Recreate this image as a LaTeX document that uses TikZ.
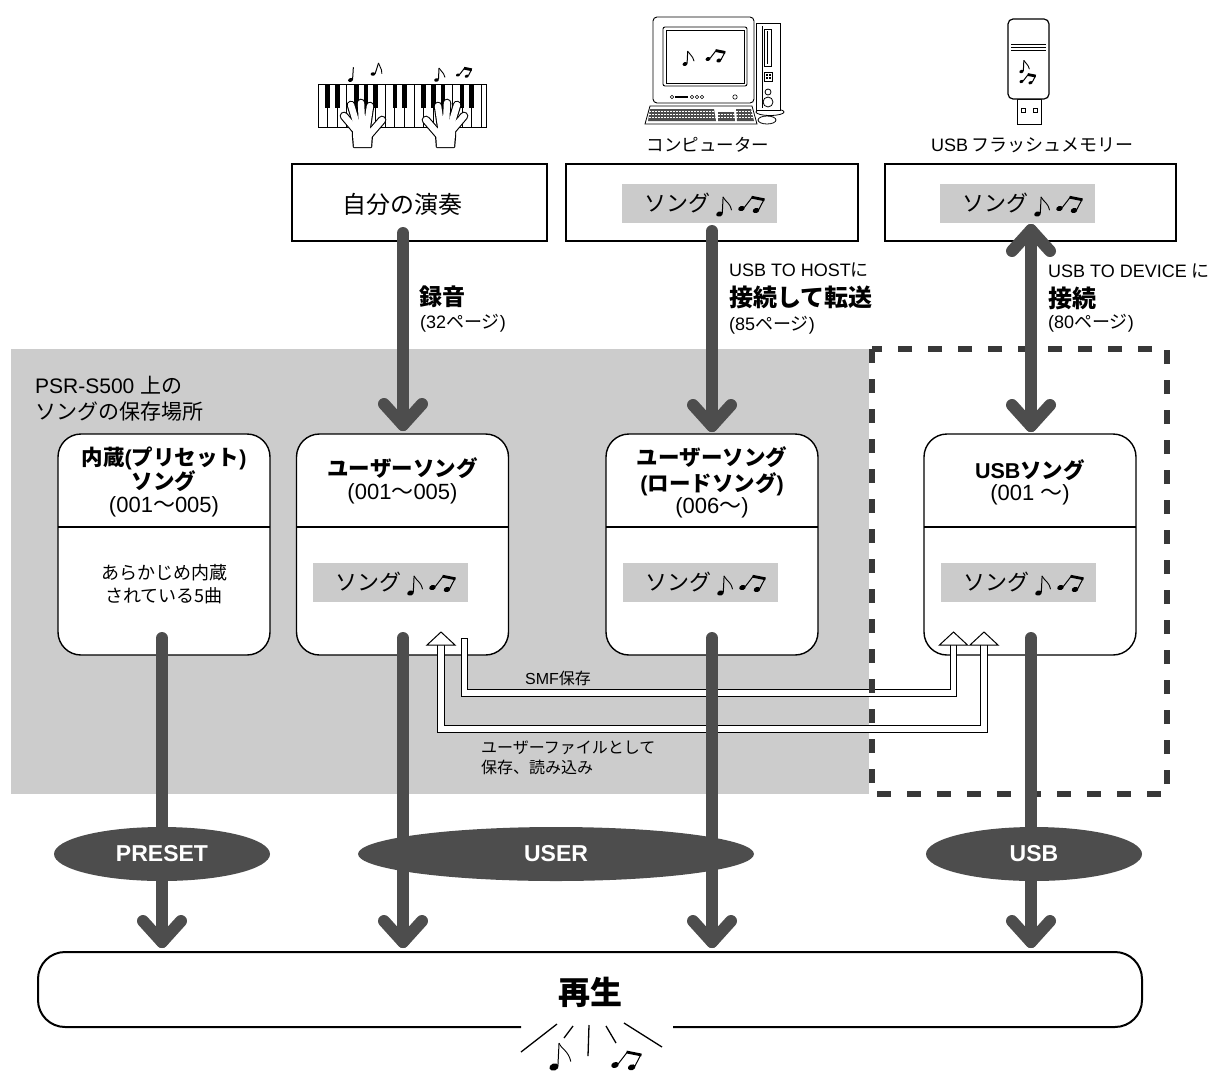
\documentclass[tikz,border=0pt]{standalone}
\usepackage{fontspec}
\usetikzlibrary{shapes.geometric}
\setmainfont{Liberation Sans}
\newfontfamily\jpf{Noto Sans CJK JP}
\newcommand\jp[1]{{\jpf #1}}
\newcommand\fs[1]{\fontsize{#1pt}{#1pt}\selectfont}
\definecolor{fatgray}{HTML}{4D4D4D}
\definecolor{zonegray}{HTML}{CCCCCC}
\definecolor{labelgray}{HTML}{CBCBCB}
\definecolor{dashgray}{HTML}{383838}

\tikzset{
  % music symbols
  eighth/.pic={
    \fill[rotate around={20:(0,0)}] (0,0) ellipse (3.4 and 2.5);
    \draw[line width=1pt] (2.8,-1) -- (3.6,-17);
    \draw[line width=0.9pt, line cap=round] (3.6,-17) .. controls (6,-12) and (10,-12) .. (12,-4);
  },
  quarter/.pic={
    \fill[rotate around={20:(0,0)}] (0,0) ellipse (3.4 and 2.5);
    \draw[line width=1pt] (2.8,-1) -- (3.8,-17);
  },
  beamed/.pic={
    \fill[rotate around={20:(0,0)}] (0,0) ellipse (3.4 and 2.5);
    \fill[rotate around={20:(14.5,2)}] (14.5,2) ellipse (3.4 and 2.5);
    \draw[line width=1pt] (2.8,-1) -- (10.5,-11);
    \draw[line width=1pt] (17.3,1) -- (22.5,-9);
    \draw[line width=2.8pt] (10,-11.3) -- (23,-8.7);
  },
  % grey "song" tag with notes
  songlabel/.pic={
    \node[fill=labelgray, minimum width=155pt, minimum height=39pt, inner sep=0pt] (-box) at (0,0) {};
    \node[inner sep=0pt, font=\fs{22}] (-text) at (-22.5,0) {\jp{ソング}};
    \pic at (20,10.5) {eighth};
    \pic at (42,5) {beamed};
  },
  % left hand seen from above, wrist at the origin
  hand/.pic={
    \draw[line width=2.4pt, line join=round] (-8,0) -- (-9,-12) -- (-9,-20) -- (6,-25) -- (10,-14) -- (9,0) -- cycle;
    \foreach \ax/\ay/\bx/\by in {-7/-18/-18/-31, -5/-22/-11/-42, 0/-23/-1/-44, 5/-21/8/-41, 7/-12/20/-27}
      \draw[line width=8.6pt, line cap=round] (\ax,\ay) -- (\bx,\by);
    \fill[white] (-8,0) -- (-9,-12) -- (-9,-20) -- (6,-25) -- (10,-14) -- (9,0) -- cycle;
    \foreach \ax/\ay/\bx/\by in {-7/-18/-18/-31, -5/-22/-11/-42, 0/-23/-1/-44, 5/-21/8/-41, 7/-12/20/-27}
      \draw[white, line width=6.4pt, line cap=round] (\ax,\ay) -- (\bx,\by);
  }
}

\begin{document}
\begin{tikzpicture}[x=1pt, y=-1pt,
  fat/.style={line width=12pt, draw=fatgray, line cap=round, line join=round},
  topbox/.style={draw, line width=2.5pt, fill=white, inner sep=0pt, minimum height=77pt},
  card/.style={draw, line width=1.4pt, fill=white, rounded corners=23pt, minimum width=212pt, minimum height=221pt, inner sep=0pt},
  hollow/.style={line width=1pt, double=white, double distance=5.5pt},
  hhead/.style={fill=white, draw, line width=1pt, line join=miter},
  tag/.style={fill=fatgray, ellipse, minimum height=54pt, inner sep=0pt, text=white, font=\fs{23}\bfseries},
  txt/.style={inner sep=0pt}
]
\useasboundingbox (0,0) rectangle (1228,1071);

% storage area on the instrument
\fill[zonegray] (11,349) rectangle (869,794);
\node[txt, anchor=west, font=\fs{21}] (areaA) at (35,385) {PSR-S500 \jp{上の}};
\node[txt, anchor=west, font=\fs{21}] (areaB) at (35,412) {\jp{ソングの保存場所}};

% ---------- keyboard with hands ----------
\draw[line width=0.9pt, fill=white] (318,84) rectangle (486,127);
\foreach \i in {1,...,17}
  \draw[line width=0.7pt] ({318+9.6*\i},84) -- ({318+9.6*\i},127);
\foreach \i in {1,2,4,5,6,8,9,11,12,13,15,16}
  \fill ({318+9.6*\i-2.3},84) rectangle ({318+9.6*\i+2.3},108);
\pic at (362,147) {hand};
\pic[xscale=-1] at (446,147) {hand};
\pic[scale=0.75] at (350.5,80) {quarter};
\pic[scale=0.7, rotate=-15] at (373,74) {eighth};
\pic[scale=0.7] at (436.5,80) {eighth};
\pic[scale=0.6] at (458,75) {beamed};

% ---------- computer ----------
\filldraw[fill=white, line width=0.9pt, rounded corners=4pt] (653,17) rectangle (754,103);
\draw[line width=0.9pt, rounded corners=2pt] (663,27) rectangle (747,86);
\draw[line width=0.6pt] (666,30) rectangle (744,83);
\pic[scale=0.75] at (685,64) {eighth};
\pic[scale=0.75] at (708,59) {beamed};
\draw[line width=0.6pt] (672,97) circle (1.8);
\fill (675,96) rectangle (688,98);
\foreach \cx in {692,697,702} \draw[line width=0.6pt] (\cx,97) circle (1.8);
\draw[line width=0.6pt] (735,97) circle (2.2);
\filldraw[fill=white, line width=0.8pt] (770,112) ellipse (14 and 3.5);
\filldraw[fill=white, line width=0.9pt] (756,23) rectangle (780,110);
\draw[line width=0.6pt] (762,26) -- (762,108);
\draw[line width=0.7pt] (764,29) rectangle (771,66);
\draw[line width=0.5pt] (767.5,31) -- (767.5,64);
\draw[line width=0.6pt] (764,72) rectangle (772,81);
\foreach \px/\py in {765.5/73.5, 768.5/73.5, 765.5/77, 768.5/77} \fill (\px,\py) rectangle ++(2,2);
\draw[line width=0.8pt] (768,92) circle (3);
\draw[line width=0.8pt] (768,102) circle (5);
\filldraw[fill=white, line width=0.8pt] (650,106) -- (752,106) -- (757,124) -- (645,124) -- cycle;
\fill[fatgray] (650,109) -- (714,109) -- (716,121) -- (648,121) -- cycle;
\fill[fatgray] (718,112) -- (734,112) -- (735,121) -- (718,121) -- cycle;
\fill[fatgray] (736,109) -- (751,109) -- (754,121) -- (737,121) -- cycle;
\foreach \ry in {111.5,114.5,117.5}
  \draw[white, line width=0.5pt, dash pattern=on 2pt off 1pt] (649,\ry) -- (754,\ry);
\filldraw[fill=white, line width=0.8pt] (767,120) ellipse (9 and 4);
\node[txt, font=\fs{17.5}] (lblpc) at (708,145) {\jp{コンピューター}};

% ---------- USB flash memory ----------
\filldraw[fill=white, line width=1pt] (1017,99) rectangle (1041,124);
\draw[line width=0.7pt] (1021,108) rectangle (1025,112);
\draw[line width=0.7pt] (1033,108) rectangle (1037,112);
\filldraw[fill=white, line width=1.2pt, rounded corners=5pt] (1008,19) rectangle (1049,99);
\foreach \sy in {44,47,50} \draw[line width=0.8pt] (1011,\sy) -- (1046,\sy);
\pic[scale=0.65] at (1021.5,71.5) {eighth};
\pic[scale=0.62] at (1021.5,81.5) {beamed};
\node[txt, font=\fs{18}] (lblusb) at (1032,145) {USB\,\jp{フラッシュメモリー}};

% ---------- sources ----------
\node[topbox, minimum width=255pt] (perf) at (419.5,202.5) {};
\node[txt, font=\fs{24}] (perftext) at (402,204) {\jp{自分の演奏}};
\node[topbox, minimum width=292pt] (pcbox) at (712,202.5) {};
\pic (pcsong) at (699.5,203.5) {songlabel};
\node[topbox, minimum width=291pt] (usbbox) at (1030.5,202.5) {};
\pic (ussong) at (1017.5,203.5) {songlabel};

% ---------- song memories ----------
\node[card] (preset) at (164,544.5) {};
\node[card] (user) at (402.5,544.5) {};
\node[card] (load) at (712,544.5) {};
\node[card] (usbsong) at (1030,544.5) {};
\foreach \lx in {58,296.5,606,924}
  \draw[line width=1.4pt] (\lx,527) -- ++(212,0);

\node[txt, font=\fs{21.5}\bfseries] (presetA) at (164,458) {\jp{内蔵}(\jp{プリセット})};
\node[txt, font=\fs{21.5}\bfseries] (presetB) at (164,481) {\jp{ソング}};
\node[txt, font=\fs{22}] (presetC) at (164,507) {(001\jp{～}005)};
\node[txt, font=\fs{18}] (presetD) at (164,573) {\jp{あらかじめ内蔵}};
\node[txt, font=\fs{18}] (presetE) at (164,596) {\jp{されている5曲}};

\node[txt, font=\fs{21.5}\bfseries] (userA) at (402.5,468) {\jp{ユーザーソング}};
\node[txt, font=\fs{22}] (userB) at (402.5,494) {(001\jp{～}005)};
\pic (usersong) at (390.5,582.5) {songlabel};

\node[txt, font=\fs{21.5}\bfseries] (loadA) at (712,457) {\jp{ユーザーソング}};
\node[txt, font=\fs{21.5}\bfseries] (loadB) at (712,484) {(\jp{ロードソング})};
\node[txt, font=\fs{22}] (loadC) at (712,508) {(006\jp{～})};
\pic (loadsong) at (700.5,582.5) {songlabel};

\node[txt, font=\fs{21.5}\bfseries] (usbA) at (1030,470) {USB\jp{ソング}};
\node[txt, font=\fs{22}] (usbB) at (1030,495) {(001 \jp{～})};
\pic (usbsongl) at (1018.5,582.5) {songlabel};

% ---------- save / load paths (hollow arrows) ----------
\coordinate (fA) at (441,645);
\coordinate (fB) at (984,645);
\draw[hollow] (fA) -- ++(0,84) -| (fB);
\filldraw[hhead] (fA) ++(0,-13) -- ++(14,13) -- ++(-28,0) -- cycle;
\filldraw[hhead] (fB) ++(0,-13) -- ++(14,13) -- ++(-28,0) -- cycle;
\coordinate (sA) at (464.5,638);
\coordinate (sB) at (953.5,645);
\draw[hollow] (sA) -- ++(0,55) -| (sB);
\draw[line width=1pt] ([xshift=-3.75pt]sA) -- ([xshift=3.75pt]sA);
\filldraw[hhead] (sB) ++(0,-13) -- ++(14,13) -- ++(-28,0) -- cycle;
\node[txt, font=\fs{16}] (smf) at (558,678) {SMF\jp{保存}};
\node[txt, anchor=west, font=\fs{16}] (ufA) at (481,748) {\jp{ユーザーファイルとして}};
\node[txt, anchor=west, font=\fs{16}] (ufB) at (481,767) {\jp{保存、読み込み}};

% external storage frame
\draw[dashgray, line width=6pt, dash pattern=on 14pt off 16pt] (872,349) rectangle (1167,794);

% ---------- transfer arrows ----------
\coordinate (recA) at (403,233);  \coordinate (recB) at (403,425);
\coordinate (xfA) at (712,231);   \coordinate (xfB) at (712,426);
\coordinate (cnA) at (1031,230);  \coordinate (cnB) at (1031,426);
\draw[fat] (recA) -- (recB);
\draw[fat] (recB) ++(-19,-21) -- (recB) -- ++(19,-21);
\draw[fat] (xfA) -- (xfB);
\draw[fat] (xfB) ++(-19,-21) -- (xfB) -- ++(19,-21);
\draw[fat] (cnA) -- (cnB);
\draw[fat] (cnB) ++(-19,-21) -- (cnB) -- ++(19,-21);
\draw[fat] (cnA) ++(-19,21) -- (cnA) -- ++(19,21);

\node[txt, anchor=west, font=\fs{23}\bfseries] (recl) at (419,297) {\jp{録音}};
\node[txt, anchor=west, font=\fs{18}] (recp) at (420,323) {(32\jp{ページ})};
\node[txt, anchor=west, font=\fs{18}] (xfl) at (729,270) {USB TO HOST\jp{に}};
\node[txt, anchor=west, font=\fs{24}\bfseries] (xfm) at (729,297) {\jp{接続して転送}};
\node[txt, anchor=west, font=\fs{18}] (xfp) at (729,325) {(85\jp{ページ})};
\node[txt, anchor=west, font=\fs{18}] (cnl) at (1048,271) {USB TO DEVICE \jp{に}};
\node[txt, anchor=west, font=\fs{24}\bfseries] (cnm) at (1048,298) {\jp{接続}};
\node[txt, anchor=west, font=\fs{18}] (cnp) at (1048,323) {(80\jp{ページ})};

% ---------- playback ----------
\foreach \px/\nm in {162/pa, 403/pb, 712/pc, 1031/pd} {
  \coordinate (\nm A) at (\px,638);
  \coordinate (\nm B) at (\px,942);
  \draw[fat] (\nm A) -- (\nm B);
  \draw[fat] (\nm B) ++(-19,-21) -- (\nm B) -- ++(19,-21);
}
\node[tag, minimum width=216pt] (tagpre) at (162,854) {PRESET};
\node[tag, minimum width=396pt] (taguser) at (556,854) {USER};
\node[tag, minimum width=216pt] (tagusb) at (1034,854) {USB};

\draw[line width=2pt, rounded corners=27pt] (521,1027) -- (38,1027) -- (38,952) -- (1142,952) -- (1142,1027) -- (673,1027);
\node[txt, font=\fs{32}\bfseries] (play) at (590,992) {\jp{再生}};

% sound coming out
\draw[line width=1.3pt] (521,1052) -- (557,1024);
\draw[line width=1.3pt] (564,1038) -- (573,1026);
\draw[line width=1.3pt] (588,1056) -- (589,1025);
\draw[line width=1.3pt] (606,1026) -- (616,1043);
\draw[line width=1.3pt] (624,1023) -- (662,1047);
\pic[scale=1.4] at (554,1067) {eighth};
\pic[scale=1.15] at (615,1065) {beamed};
\end{tikzpicture}
\end{document}
